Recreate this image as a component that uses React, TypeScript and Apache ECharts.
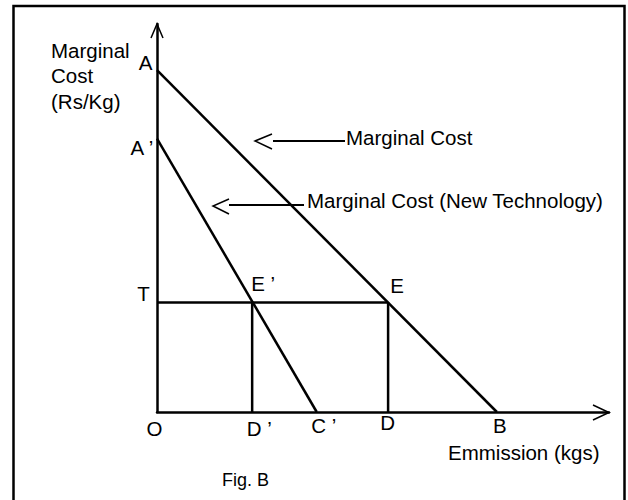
import React, { useEffect, useRef } from "react";
import * as echarts from "echarts";

// Data (arbitrary units; O = origin)
const mcCurve: [number, number][] = [[0, 10], [10, 0]]; // A -> B
const mcNewCurve: [number, number][] = [[0, 8], [4.7, 0]]; // A' -> C'
const taxLine: [number, number][] = [[0, 3.2], [6.8, 3.2]]; // T -> E
const dLine: [number, number][] = [[6.8, 0], [6.8, 3.2]]; // D -> E
const dPrimeLine: [number, number][] = [[2.8, 0], [2.8, 3.2]]; // D' -> E'
const pointNames = ["A", "A ’", "T", "E ’", "E", "O", "D ’", "C ’", "D", "B"];
const pointValues: [number, number][] = [
  [0, 10], [0, 8], [0, 3.2], [2.8, 3.2], [6.8, 3.2],
  [0, 0], [2.8, 0], [4.7, 0], [6.8, 0], [10, 0],
];
const labelOffsets: [number, number][] = [
  [-11.5, -8], [-15, 9], [-13.5, -9.5], [11, -19.5], [9, -17.5],
  [-2.5, 16], [7, 16], [7, 13], [-0.5, 10], [3, 13],
];
const xMax = 13.3;
const yMax = 11.35;

const FONT = "Liberation Sans, Arial, Helvetica, sans-serif";

export default function App() {
  const ref = useRef<HTMLDivElement>(null);
  useEffect(() => {
    if (!ref.current) return;
    const chart = echarts.init(ref.current, undefined, { renderer: "svg" });
    const lineStyle = { color: "#000", width: 2.5 };
    const mkLine = (name: string, data: [number, number][]) => ({
      name,
      type: "line",
      data,
      symbol: "none",
      lineStyle,
      silent: true,
    });
    const txt = (text: string, x: number, y: number, size = 20.5, align = "left") => ({
      type: "text",
      x,
      y,
      style: {
        text,
        fill: "#000",
        font: `${size}px ${FONT}`,
        align,
        verticalAlign: "middle",
      },
    });
    const poly = (points: number[][], w = 1.5) => ({
      type: "polyline",
      shape: { points },
      style: { stroke: "#000", lineWidth: w, fill: "none" },
    });
    chart.setOption({
      animation: false,
      backgroundColor: "#fff",
      grid: { left: 157, right: 19, top: 24, bottom: 88 },
      xAxis: {
        type: "value",
        min: 0,
        max: xMax,
        axisLine: { show: true, lineStyle: { color: "#000", width: 2.5 } },
        axisTick: { show: false },
        axisLabel: { show: false },
        splitLine: { show: false },
      },
      yAxis: {
        type: "value",
        min: 0,
        max: yMax,
        axisLine: { show: true, lineStyle: { color: "#000", width: 2.5 } },
        axisTick: { show: false },
        axisLabel: { show: false },
        splitLine: { show: false },
      },
      series: [
        mkLine("Marginal Cost", mcCurve),
        mkLine("Marginal Cost (New Technology)", mcNewCurve),
        mkLine("T-E", taxLine),
        mkLine("D-E", dLine),
        mkLine("D'-E'", dPrimeLine),
        {
          type: "scatter",
          symbolSize: 0,
          silent: true,
          itemStyle: { opacity: 1, color: "#000" },
          data: pointValues.map((v, i) => ({
            value: v,
            name: pointNames[i],
            label: { offset: labelOffsets[i] },
          })),
          label: {
            show: true,
            position: "inside",
            formatter: "{b}",
            color: "#000",
            opacity: 1,
            fontSize: 20.5,
            fontFamily: FONT,
            textBorderWidth: 0,
          },
        },
      ],
      graphic: [
        {
          type: "rect",
          shape: { x: 13.5, y: 6, width: 611, height: 520 },
          style: { fill: "none", stroke: "#000", lineWidth: 2.5 },
        },
        poly([[151, 38], [157, 24], [163, 38]]),
        poly([[593, 405], [609, 412.5], [593, 420]]),
        poly([[272, 134], [255, 141], [272, 149]]),
        poly([[273, 141], [345, 141]], 2.2),
        poly([[229, 199], [213, 206], [229, 214]]),
        poly([[229, 205], [304, 205]], 2.2),
        txt("Marginal Cost", 346, 137),
        txt("Marginal Cost (New Technology)", 307, 200),
        txt("Marginal", 51, 50),
        txt("Cost", 51, 75.5),
        txt("(Rs/Kg)", 51, 101),
        txt("Emmission (kgs)", 448, 452),
        txt("Fig. B", 222, 480, 18),
      ],
    });
    return () => chart.dispose();
  }, []);
  return (
    <div
      ref={ref}
      style={{ position: "fixed", left: 0, top: 0, width: 628, height: 500 }}
    />
  );
}
